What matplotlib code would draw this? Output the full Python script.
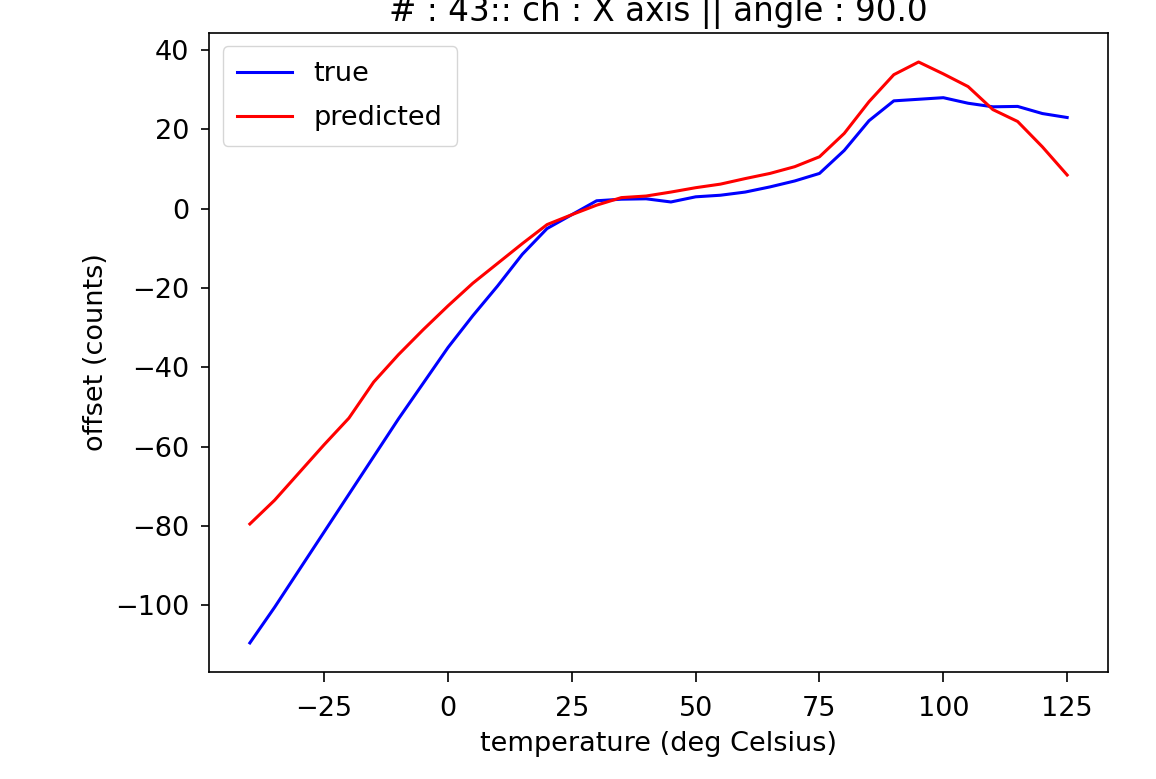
import matplotlib
matplotlib.use("Agg")
import matplotlib.pyplot as plt
import numpy as np

# temperatures (deg C)
temperature = [-40, -35, -30, -25, -20, -15, -10, -5, 0, 5, 10, 15, 20, 25, 30, 35, 40,
               45, 50, 55, 60, 65, 70, 75, 80, 85, 90, 95, 100, 105, 110, 115, 120, 125]

offset_true = [-109.5, -100.5, -91.0, -81.5, -72.0, -62.5, -53.0, -44.0, -35.0, -27.0,
               -19.5, -11.5, -5.0, -1.5, 2.0, 2.4, 2.5, 1.7, 3.0, 3.4, 4.2, 5.5, 7.0,
               8.9, 14.7, 22.2, 27.2, 27.6, 28.0, 26.6, 25.7, 25.8, 24.0, 23.0]

offset_pred = [-79.5, -73.5, -66.5, -59.5, -52.8, -43.7, -36.8, -30.5, -24.5, -18.8,
               -13.8, -8.8, -4.0, -1.5, 0.9, 2.8, 3.2, 4.2, 5.3, 6.2, 7.6, 8.9, 10.6,
               13.1, 19.0, 27.0, 33.8, 37.0, 34.0, 30.8, 25.0, 22.0, 15.6, 8.5]

title = "# : 43:: ch : X axis || angle : 90.0"

plt.rcParams["font.family"] = "DejaVu Sans"
plt.rcParams["font.size"] = 19.5

fig = plt.figure(figsize=(11.56, 7.79), dpi=100)
ax = fig.add_axes([0.1808, 0.1374, 0.7777, 0.8203])

ax.plot(temperature, offset_true, color="b", lw=2.2, label="true")
ax.plot(temperature, offset_pred, color="r", lw=2.2, label="predicted")

ax.set_title(title, fontsize=23.5, pad=8.5)
ax.set_xlabel("temperature (deg Celsius)", fontsize=19.5, labelpad=6.5)
ax.set_ylabel("offset (counts)", fontsize=19.5, labelpad=4.5)
ax.set_xticks([-25, 0, 25, 50, 75, 100, 125])
ax.set_yticks([-100, -80, -60, -40, -20, 0, 20, 40])

for s in ax.spines.values():
    s.set_linewidth(1.2)
ax.tick_params(axis="x", length=7.5, width=1.2, pad=10, labelsize=19.5)
ax.tick_params(axis="y", length=6, width=1.2, pad=8, labelsize=19.5)

ax.legend(loc="upper left", fontsize=19.5, handlelength=2.0,
          borderpad=0.55, labelspacing=0.65)

fig.savefig("out.png", dpi=100)
